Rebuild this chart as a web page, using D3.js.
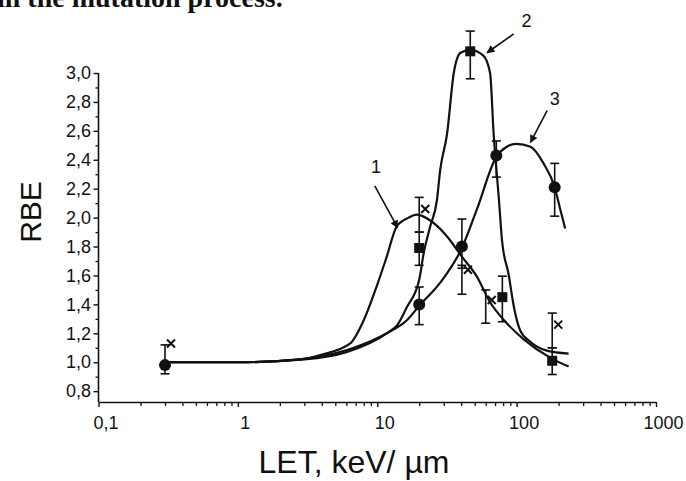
<!DOCTYPE html>
<html>
<head>
<meta charset="utf-8">
<script src="https://cdn.jsdelivr.net/npm/d3@7"></script>
<style>
  html, body { margin: 0; padding: 0; background: #fff; }
  svg { display: block; }
</style>
</head>
<body>
<svg id="chart" width="686" height="481"></svg>
<script>
// ---- Measured points (LET in keV/µm, RBE) ----
// Curve 3: filled circles
const circleLet = [0.3, 20, 40.5, 71.5, 187.5];
const circleRbe = [0.98, 1.40, 1.80, 2.43, 2.21];
const circleLo  = [0.92, 1.26, 1.65, 2.28, 2.01];
const circleHi  = [1.12, 1.52, 1.99, 2.53, 2.375];

// Curve 2: filled squares
const squareLet = [20, 46.5, 79, 180];
const squareRbe = [1.79, 3.15, 1.45, 1.01];
const squareLo  = [1.67, 2.96, 1.28, 0.915];
const squareHi  = [1.90, 3.29, 1.595, 1.10];

// Curve 1: crosses
const crossLet = [0.3, 20, 40.5, 60, 180];
const crossRbe = [1.13, 2.06, 1.64, 1.43, 1.26];
const crossLo  = [1.13, 1.90, 1.47, 1.27, 1.10];
const crossHi  = [1.13, 2.14, 1.67, 1.50, 1.34];

// ---- Fitted curves ----
const curve1Let = [0.3, 1, 2.8, 3.9, 6.4, 8, 9.7, 11.7, 13.8, 16.8, 19.2, 24, 31.7, 40.5, 52, 64, 85, 112, 175, 236];
const curve1Rbe = [1.0, 1.0, 1.02, 1.05, 1.13, 1.29, 1.5, 1.73, 1.94, 2.0, 2.02, 1.98, 1.87, 1.73, 1.59, 1.42, 1.27, 1.16, 1.03, 0.97];

const curve2Let = [0.3, 1, 3, 6, 11.7, 14, 16.3, 20, 21.5, 24, 26.8, 28.3, 31.7, 35.4, 39.6, 46.6, 57.7, 64.5, 68.4, 74.7, 78.6, 87.5, 95.7, 106, 126, 165, 236];
const curve2Rbe = [1.0, 1.0, 1.02, 1.07, 1.2, 1.26, 1.38, 1.57, 1.75, 1.94, 2.12, 2.33, 2.58, 3.0, 3.14, 3.16, 3.12, 3.0, 2.58, 2.12, 1.84, 1.61, 1.38, 1.22, 1.14, 1.08, 1.06];

const curve3Let = [0.3, 1, 2.8, 3.9, 6.8, 11.7, 16.3, 20, 28.3, 40.5, 52, 71.5, 85, 99.5, 125.7, 156, 187.5, 204, 223];
const curve3Rbe = [1.0, 1.0, 1.02, 1.04, 1.1, 1.2, 1.29, 1.39, 1.55, 1.79, 2.06, 2.42, 2.49, 2.51, 2.49, 2.375, 2.21, 2.07, 1.925];

// ---- Curve labels with arrows ----
const annotLabels  = ["1", "2", "3"];
const annotTextLet = [9.8, 117.5, 187.5];
const annotTextRbe = [2.35, 3.36, 2.82];
const arrowFromLet = [9.6, 95.2, 165.5];
const arrowFromRbe = [2.22, 3.27, 2.74];
const arrowToLet   = [14.0, 61.4, 125.7];
const arrowToRbe   = [1.93, 3.14, 2.52];

// ---- Axes ----
const xMajorTicks  = [0.1, 1, 10, 100, 1000];
const xTickLabels  = ["0,1", "1", "10", "100", "1000"];
const xMinorTicks  = [0.2,0.3,0.4,0.5,0.6,0.7,0.8,0.9, 2,3,4,5,6,7,8,9, 20,30,40,50,60,70,80,90, 200,300,400,500,600,700,800,900];
const yMajorTicks  = [0.8, 1.0, 1.2, 1.4, 1.6, 1.8, 2.0, 2.2, 2.4, 2.6, 2.8, 3.0];
const yTickLabels  = ["0,8", "1,0", "1,2", "1,4", "1,6", "1,8", "2,0", "2,2", "2,4", "2,6", "2,8", "3,0"];
const yMinorTicks  = [0.9, 1.1, 1.3, 1.5, 1.7, 1.9, 2.1, 2.3, 2.5, 2.7, 2.9];

const titleText = "in the mutation process.";
const xTitle = "LET, keV/ \u00b5m";
const yTitle = "RBE";

// ---- Drawing ----
const svg = d3.select("#chart");
const ink = "#111";
const sans = "'Liberation Sans', Arial, sans-serif";

const x = d3.scaleLog().domain([0.1, 1000]).range([98.5, 656]);
const y = d3.scaleLinear().domain([0.725, 3.0]).range([402, 73]);

// running text line above the figure, clipped by the top edge
svg.append("text")
  .attr("x", -3).attr("y", 7)
  .attr("font-family", "'Liberation Serif', 'Times New Roman', serif")
  .attr("font-weight", "bold")
  .attr("font-size", 28)
  .attr("fill", ink)
  .text(titleText);

// x axis
const xAxisG = svg.append("g").attr("transform", `translate(0,${y.range()[0]})`);
xAxisG.call(d3.axisBottom(x).tickValues(xMajorTicks).tickSize(5).tickSizeOuter(0)
  .tickFormat((d, i) => xTickLabels[i]));
xAxisG.select(".domain").attr("stroke", ink).attr("stroke-width", 1.6);
xAxisG.selectAll(".tick line").attr("stroke", ink).attr("stroke-width", 1.4);
xAxisG.selectAll(".tick text")
  .attr("y", 14).attr("dx", 7)
  .attr("font-family", sans).attr("font-size", 18).attr("fill", ink);

const xMinorG = svg.append("g").attr("transform", `translate(0,${y.range()[0]})`);
xMinorG.call(d3.axisBottom(x).tickValues(xMinorTicks).tickSize(4).tickSizeOuter(0).tickFormat(""));
xMinorG.select(".domain").remove();
xMinorG.selectAll(".tick line").attr("stroke", ink).attr("stroke-width", 1.3);

// y axis
const yAxisG = svg.append("g").attr("transform", `translate(${x.range()[0]},0)`);
yAxisG.call(d3.axisLeft(y).tickValues(yMajorTicks).tickSize(5).tickSizeOuter(0)
  .tickFormat((d, i) => yTickLabels[i]));
yAxisG.select(".domain").attr("stroke", ink).attr("stroke-width", 1.6)
  .attr("d", `M0,${y(3.0)}V${y.range()[0]}`);
yAxisG.selectAll(".tick line").attr("stroke", ink).attr("stroke-width", 1.4);
yAxisG.selectAll(".tick text")
  .attr("x", -7.5)
  .attr("font-family", sans).attr("font-size", 18).attr("fill", ink);

const yMinorG = svg.append("g").attr("transform", `translate(${x.range()[0]},0)`);
yMinorG.call(d3.axisLeft(y).tickValues(yMinorTicks).tickSize(3).tickSizeOuter(0).tickFormat(""));
yMinorG.select(".domain").remove();
yMinorG.selectAll(".tick line").attr("stroke", ink).attr("stroke-width", 1.3);

// axis titles
svg.append("text")
  .attr("transform", `translate(41,212) rotate(-90)`)
  .attr("text-anchor", "middle")
  .attr("font-family", sans).attr("font-size", 30).attr("fill", ink)
  .text(yTitle);

svg.append("text")
  .attr("x", 354).attr("y", 473)
  .attr("text-anchor", "middle")
  .attr("font-family", sans).attr("font-size", 32).attr("fill", ink)
  .text(xTitle);

// fitted curves
const line = d3.line()
  .x(d => x(d[0]))
  .y(d => y(d[1]))
  .curve(d3.curveMonotoneX);

[[curve1Let, curve1Rbe], [curve2Let, curve2Rbe], [curve3Let, curve3Rbe]].forEach(([ls, rs]) => {
  svg.append("path")
    .datum(ls.map((l, i) => [l, rs[i]]))
    .attr("d", line)
    .attr("fill", "none")
    .attr("stroke", ink)
    .attr("stroke-width", 2.2)
    .attr("stroke-linejoin", "round");
});

// error bars
function errorBars(lets, lo, hi) {
  const g = svg.append("g").attr("stroke", ink).attr("stroke-width", 1.6);
  lets.forEach((l, i) => {
    if (hi[i] - lo[i] <= 0) return;
    const cx = x(l);
    g.append("line").attr("x1", cx).attr("x2", cx).attr("y1", y(lo[i])).attr("y2", y(hi[i]));
    g.append("line").attr("x1", cx - 4.5).attr("x2", cx + 4.5).attr("y1", y(lo[i])).attr("y2", y(lo[i]));
    g.append("line").attr("x1", cx - 4.5).attr("x2", cx + 4.5).attr("y1", y(hi[i])).attr("y2", y(hi[i]));
  });
}
errorBars(circleLet, circleLo, circleHi);
errorBars(squareLet, squareLo, squareHi);
errorBars(crossLet, crossLo, crossHi);

// markers
svg.append("g").selectAll("circle")
  .data(circleLet.map((l, i) => [l, circleRbe[i]]))
  .join("circle")
  .attr("cx", d => x(d[0])).attr("cy", d => y(d[1]))
  .attr("r", 6).attr("fill", ink);

const sq = 10;
svg.append("g").selectAll("rect")
  .data(squareLet.map((l, i) => [l, squareRbe[i]]))
  .join("rect")
  .attr("x", d => x(d[0]) - sq / 2).attr("y", d => y(d[1]) - sq / 2)
  .attr("width", sq).attr("height", sq).attr("fill", ink);

const crossShift = 6, cs = 4;
svg.append("g").attr("stroke", ink).attr("stroke-width", 2)
  .selectAll("path")
  .data(crossLet.map((l, i) => [l, crossRbe[i]]))
  .join("path")
  .attr("d", d => {
    const cx = x(d[0]) + crossShift, cy = y(d[1]);
    return `M${cx - cs},${cy - cs}L${cx + cs},${cy + cs}M${cx - cs},${cy + cs}L${cx + cs},${cy - cs}`;
  });

// curve labels and arrows
const defs = svg.append("defs");
defs.append("marker")
  .attr("id", "arrowhead")
  .attr("viewBox", "0 0 10 10")
  .attr("refX", 9).attr("refY", 5)
  .attr("markerWidth", 10).attr("markerHeight", 8)
  .attr("markerUnits", "userSpaceOnUse")
  .attr("orient", "auto")
  .append("path").attr("d", "M0,0L10,5L0,10Z").attr("fill", ink);

annotLabels.forEach((t, i) => {
  svg.append("line")
    .attr("x1", x(arrowFromLet[i])).attr("y1", y(arrowFromRbe[i]))
    .attr("x2", x(arrowToLet[i])).attr("y2", y(arrowToRbe[i]))
    .attr("stroke", ink).attr("stroke-width", 1.6)
    .attr("marker-end", "url(#arrowhead)");
  svg.append("text")
    .attr("x", x(annotTextLet[i])).attr("y", y(annotTextRbe[i]))
    .attr("text-anchor", "middle").attr("dominant-baseline", "central")
    .attr("font-family", sans).attr("font-size", 18).attr("fill", ink)
    .text(t);
});
</script>
</body>
</html>
